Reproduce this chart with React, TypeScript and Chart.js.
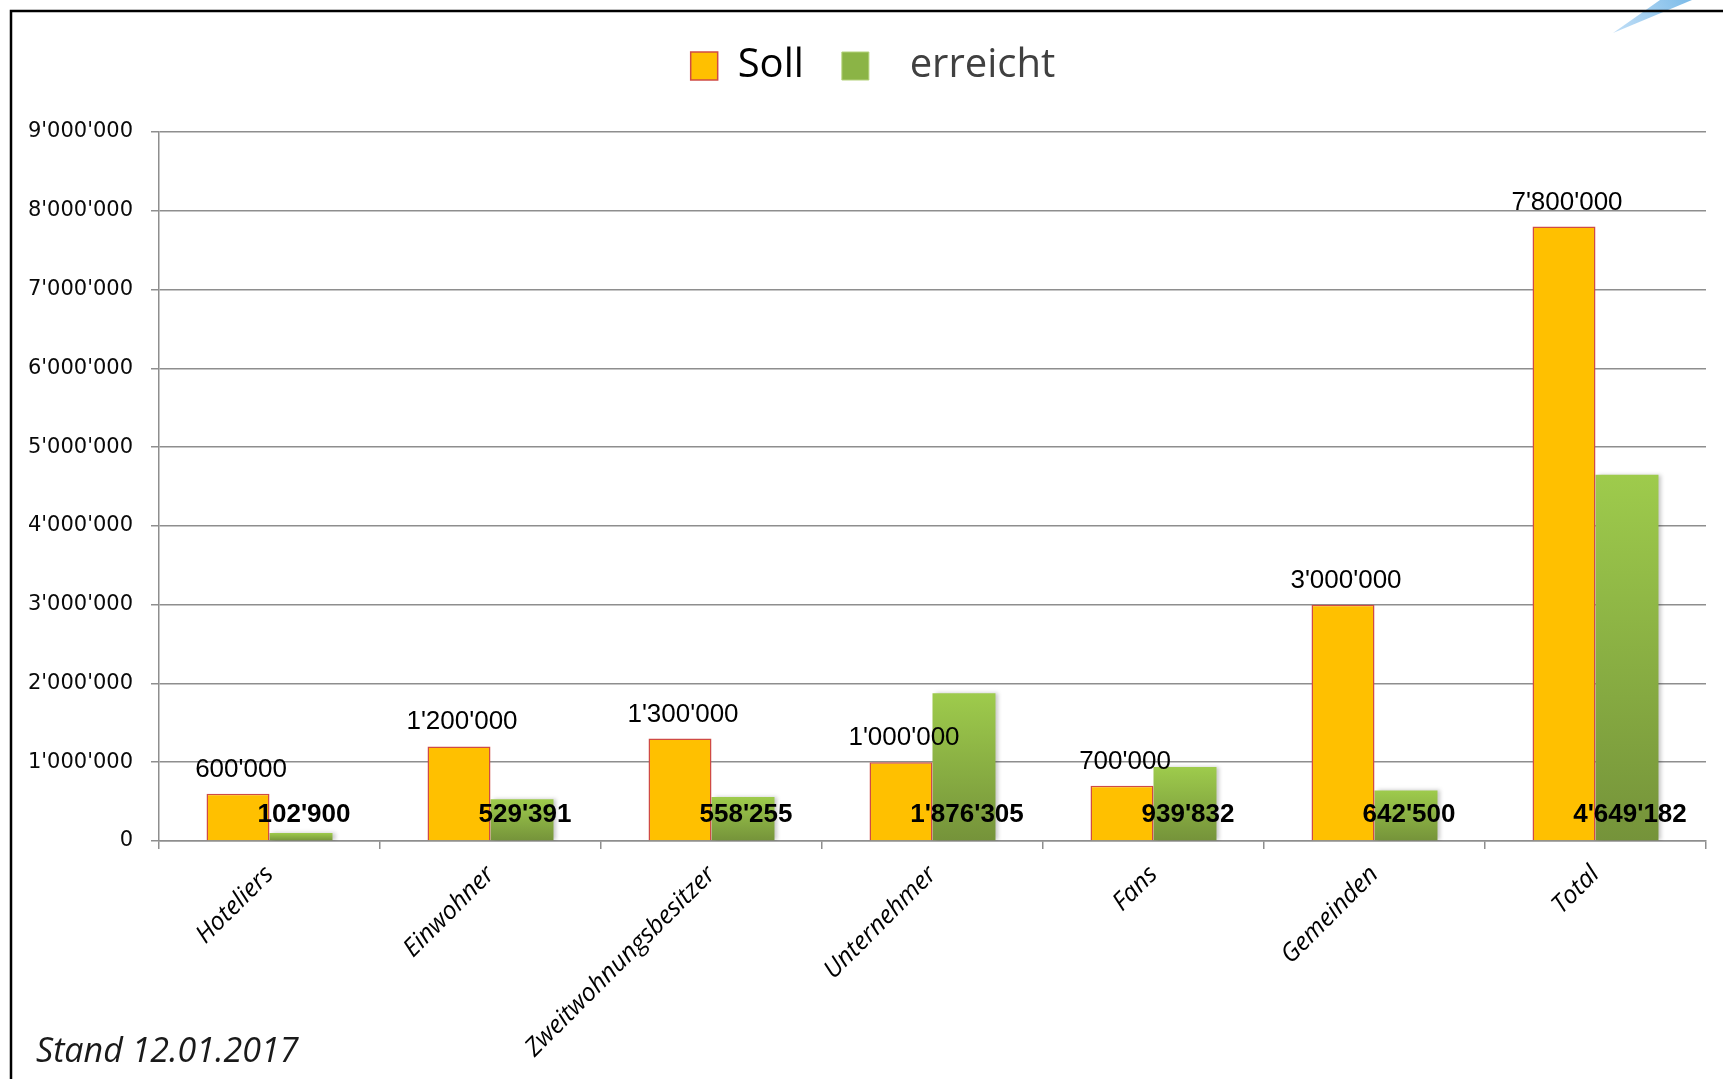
import React, { useEffect, useRef } from 'react';
import { Chart, registerables } from 'chart.js';

Chart.register(...registerables);

// ---- data ----
const categories: string[] = ['Hoteliers', 'Einwohner', 'Zweitwohnungsbesitzer', 'Unternehmer', 'Fans', 'Gemeinden', 'Total'];
const sollValues: number[] = [600000, 1200000, 1300000, 1000000, 700000, 3000000, 7800000];
const erreichtValues: number[] = [102900, 529391, 558255, 1876305, 939832, 642500, 4649182];
const seriesNames: string[] = ['Soll', 'erreicht'];
const yMin = 0;
const yMax = 9000000;
const yStep = 1000000;
const footnote = 'Stand 12.01.2017';

// ---- styles ----
const ORANGE = '#FFC000';
const ORANGE_BORDER = '#CF4B45';
const GREEN_TOP = '#9ecb4c';
const GREEN_BOTTOM = '#75933a';
const GREEN_MID = '#8bb446';
const GRID = '#8e8e8e';

function fmt(v: number): string {
  return Math.round(v).toString().replace(/\B(?=(\d{3})+(?!\d))/g, "'");
}

const decorPlugin = {
  id: 'decor',
  afterLayout(chart: any) {
    // centre the legend like the original slide (slightly right of the canvas centre)
    if (chart.legend) chart.legend.left += 40;
  },
  beforeDraw(chart: any) {
    const { ctx, width, height } = chart;
    ctx.save();
    ctx.fillStyle = '#ffffff';
    ctx.fillRect(0, 0, width, height);
    // light blue streak in the top right corner
    const g = ctx.createLinearGradient(1613, 33, 1690, 0);
    g.addColorStop(0, 'rgba(150,200,240,0.6)');
    g.addColorStop(1, 'rgba(110,180,230,0.9)');
    ctx.fillStyle = g;
    ctx.beginPath();
    ctx.moveTo(1613, 33);
    ctx.lineTo(1660, 0);
    ctx.lineTo(1692, 0);
    ctx.closePath();
    ctx.fill();
    // frame
    ctx.strokeStyle = '#000';
    ctx.lineWidth = 2.5;
    ctx.beginPath();
    ctx.moveTo(11, height);
    ctx.lineTo(11, 11);
    ctx.lineTo(width, 11);
    ctx.stroke();
    ctx.restore();
  },
  beforeDatasetDraw(chart: any, args: any) {
    if (args.index === 1) {
      const ctx = chart.ctx;
      ctx.save();
      ctx.shadowColor = 'rgba(0,0,0,0.22)';
      ctx.shadowBlur = 4;
      ctx.shadowOffsetX = 3;
      ctx.shadowOffsetY = 0;
    }
  },
  afterDatasetDraw(chart: any, args: any) {
    if (args.index === 1) chart.ctx.restore();
  },
  afterDatasetsDraw(chart: any) {
    const ctx = chart.ctx;
    ctx.save();
    ctx.fillStyle = '#000';
    ctx.textAlign = 'center';
    ctx.textBaseline = 'alphabetic';
    const m0 = chart.getDatasetMeta(0);
    const m1 = chart.getDatasetMeta(1);
    ctx.font = '26px "Liberation Sans", Arial, sans-serif';
    m0.data.forEach((bar: any, i: number) => {
      ctx.fillText(fmt(chart.data.datasets[0].data[i]), bar.x + 3, bar.y - 17);
    });
    ctx.font = 'bold 26px "Liberation Sans", Arial, sans-serif';
    m1.data.forEach((bar: any, i: number) => {
      ctx.fillText(fmt(chart.data.datasets[1].data[i]), bar.x + 3, bar.base - 18);
    });
    ctx.restore();
  },
  afterDraw(chart: any) {
    const ctx = chart.ctx;
    ctx.save();
    ctx.fillStyle = '#1a1a1a';
    ctx.font = 'italic 34px "Open Sans", sans-serif';
    ctx.textAlign = 'left';
    ctx.textBaseline = 'alphabetic';
    ctx.fillText(footnote, 36, 1062);
    ctx.restore();
  },
};

export default function App() {
  const ref = useRef<HTMLCanvasElement | null>(null);

  useEffect(() => {
    if (!ref.current) return;
    const greenFill = (c: any) => {
      if (c.type !== 'data') return GREEN_MID;
      const chart = c.chart;
      const y = chart.scales && chart.scales.y;
      if (!y) return GREEN_MID;
      const top = y.getPixelForValue(c.raw);
      const bottom = y.getPixelForValue(0);
      if (!isFinite(top) || !isFinite(bottom) || top === bottom) return GREEN_MID;
      const g = chart.ctx.createLinearGradient(0, top, 0, bottom);
      g.addColorStop(0, GREEN_TOP);
      g.addColorStop(1, GREEN_BOTTOM);
      return g;
    };

    const chart = new Chart(ref.current, {
      type: 'bar',
      data: {
        labels: categories,
        datasets: [
          {
            label: seriesNames[0],
            data: sollValues,
            backgroundColor: ORANGE,
            borderColor: ORANGE_BORDER,
            borderWidth: 1.5,
            categoryPercentage: 0.57,
            barPercentage: 1.0,
          },
          {
            label: seriesNames[1],
            data: erreichtValues,
            backgroundColor: greenFill as any,
            borderWidth: 0,
            categoryPercentage: 0.57,
            barPercentage: 1.0,
          },
        ],
      },
      options: {
        responsive: false,
        animation: false,
        devicePixelRatio: 1,
        layout: { padding: { top: 8, left: 0, right: 17, bottom: 0 } },
        plugins: {
          tooltip: { enabled: false },
          title: {
            display: true,
            text: '',
            position: 'top',
            weight: 500,
            padding: 0,
            font: { size: 36, lineHeight: 1 },
          } as any,
          legend: {
            position: 'top',
            align: 'center',
            labels: {
              boxWidth: 27,
              boxHeight: 28,
              padding: 38,
              font: { family: '"Open Sans", sans-serif', size: 40 },
              generateLabels: (chart: any) => {
                const items = (Chart.defaults.plugins.legend.labels as any).generateLabels(chart);
                items[0].fontColor = '#000000';
                items[0].fillStyle = ORANGE;
                items[0].strokeStyle = ORANGE_BORDER;
                items[0].lineWidth = 1.5;
                items[1].text = '  ' + items[1].text;
                items[1].fontColor = '#404040';
                items[1].fillStyle = GREEN_MID;
                items[1].strokeStyle = '#b3d27a';
                items[1].lineWidth = 1;
                return items;
              },
            },
          },
        },
        scales: {
          x: {
            grid: {
              offset: true,
              drawOnChartArea: false,
              drawTicks: true,
              tickLength: 8,
              color: GRID,
              lineWidth: 1.5,
            },
            border: { display: true, color: GRID, width: 1.5 },
            ticks: {
              autoSkip: false,
              minRotation: 45,
              maxRotation: 45,
              padding: 11,
              color: '#000',
              font: { family: '"Open Sans", sans-serif', size: 25, style: 'italic' },
            },
            afterFit: (s: any) => {
              s.height = 238;
            },
          },
          y: {
            min: yMin,
            max: yMax,
            ticks: {
              stepSize: yStep,
              padding: 18,
              color: '#0a0a0a',
              font: { family: '"DejaVu Sans", sans-serif', size: 21 },
              callback: (v: any) => fmt(Number(v)),
            },
            grid: { color: GRID, lineWidth: 1.5, tickLength: 8, drawTicks: true },
            border: { display: true, color: GRID, width: 1.5 },
            afterFit: (s: any) => {
              s.width = 159;
            },
          },
        },
      },
      plugins: [decorPlugin],
    });
    return () => chart.destroy();
  }, []);

  return (
    <div style={{ position: 'absolute', left: 0, top: 0, width: 1723, height: 1079, background: '#fff' }}>
      <canvas ref={ref} width={1723} height={1079} style={{ display: 'block' }} />
    </div>
  );
}
